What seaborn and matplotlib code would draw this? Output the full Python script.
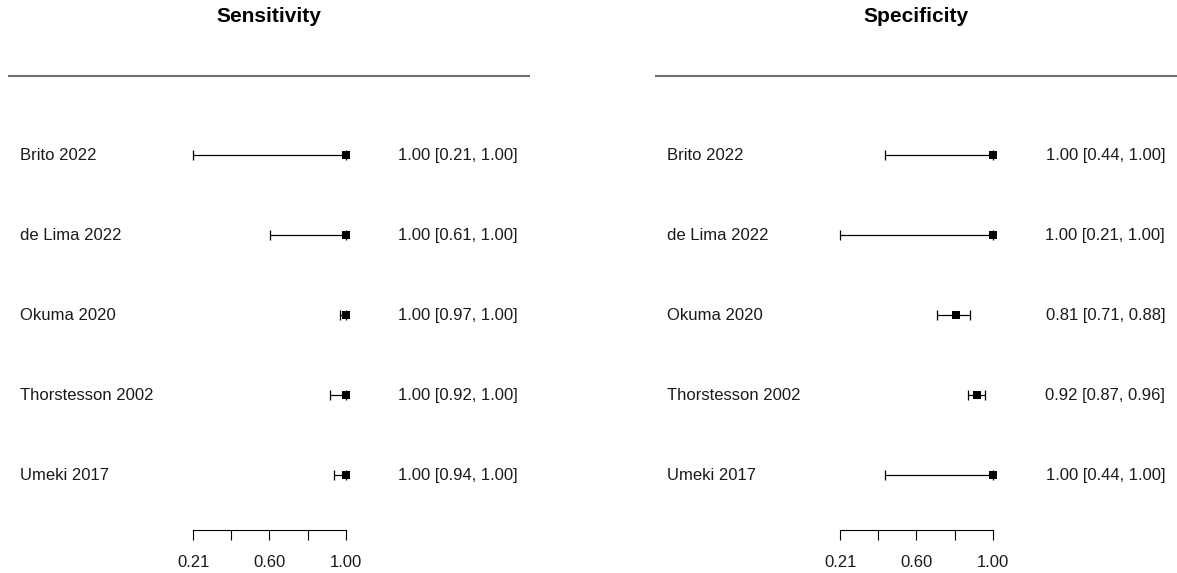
import matplotlib
matplotlib.use("Agg")
import matplotlib.pyplot as plt
import seaborn as sns
import pandas as pd

studies = ["Brito 2022", "de Lima 2022", "Okuma 2020", "Thorstesson 2002", "Umeki 2017"]

sens_est = [1.00, 1.00, 1.00, 1.00, 1.00]
sens_lo = [0.21, 0.61, 0.97, 0.92, 0.94]
sens_hi = [1.00, 1.00, 1.00, 1.00, 1.00]

spec_est = [1.00, 1.00, 0.81, 0.92, 1.00]
spec_lo = [0.44, 0.21, 0.71, 0.87, 0.44]
spec_hi = [1.00, 1.00, 0.88, 0.96, 1.00]

panel_titles = ["Sensitivity", "Specificity"]
tick_values = [0.21, 0.4075, 0.605, 0.8025, 1.00]
tick_labels = ["0.21", "", "0.60", "", "1.00"]

sns.set_theme(style="white")
plt.rcParams["font.family"] = ["Liberation Sans", "DejaVu Sans"]

W, H = 1177, 573
fig = plt.figure(figsize=(W / 100, H / 100), dpi=100)

# x mapping: data units per pixel inside each panel
PX_PER_UNIT = 192.9
X_AT_0 = 0.21 - 193.3 / PX_PER_UNIT
PANEL_W = 530
ROW0_PX, ROW_STEP = 155, 80


def px_to_x(px):
    return X_AT_0 + px / PX_PER_UNIT


def px_to_row(py):
    return (py - ROW0_PX) / ROW_STEP


def draw_panel(left_px, title, est, lo, hi):
    ax = fig.add_axes([left_px / W, 0, PANEL_W / W, 1])
    df = pd.DataFrame({"study": studies, "est": est, "lo": lo, "hi": hi,
                       "row": range(len(studies))})
    ax.errorbar(df["est"], df["row"],
                xerr=[df["est"] - df["lo"], df["hi"] - df["est"]],
                fmt="none", ecolor="black", elinewidth=0.9,
                capsize=3.6, capthick=0.9, zorder=2)
    sns.scatterplot(data=df, x="est", y="row", marker="s", s=26,
                    color="black", edgecolor="black", linewidth=0,
                    ax=ax, zorder=3, legend=False)

    ax.set_xlim(px_to_x(0), px_to_x(PANEL_W))
    ax.set_ylim(px_to_row(H), px_to_row(0))

    for r, row in df.iterrows():
        ax.text(px_to_x(20), row["row"], row["study"], ha="left", va="center",
                fontsize=12, color="#1a1a1a")
        ax.text(px_to_x(518), row["row"],
                f"{row['est']:.2f} [{row['lo']:.2f}, {row['hi']:.2f}]",
                ha="right", va="center", fontsize=12, color="#1a1a1a")

    ax.plot([px_to_x(8), px_to_x(PANEL_W)], [px_to_row(75.5)] * 2,
            color="#707070", lw=1.5, clip_on=False, solid_capstyle="butt")
    ax.text(px_to_x(269), px_to_row(17), title, ha="center", va="center",
            fontsize=15, fontweight="bold", color="black")

    for side in ("left", "top", "right"):
        ax.spines[side].set_visible(False)
    ax.spines["bottom"].set_position(("data", px_to_row(530)))
    ax.spines["bottom"].set_bounds(0.21, 1.00)
    ax.spines["bottom"].set_color("black")
    ax.spines["bottom"].set_linewidth(0.8)
    ax.set_xticks(tick_values)
    ax.set_xticklabels(tick_labels)
    ax.tick_params(axis="x", direction="out", length=7.2, width=0.8,
                   color="black", labelsize=12, labelcolor="#1a1a1a", pad=11,
                   bottom=True)
    ax.set_yticks([])
    ax.set_xlabel("")
    ax.set_ylabel("")
    ax.patch.set_alpha(0)


draw_panel(0, panel_titles[0], sens_est, sens_lo, sens_hi)
draw_panel(647, panel_titles[1], spec_est, spec_lo, spec_hi)

fig.savefig("out.png", dpi=100, facecolor="white")
